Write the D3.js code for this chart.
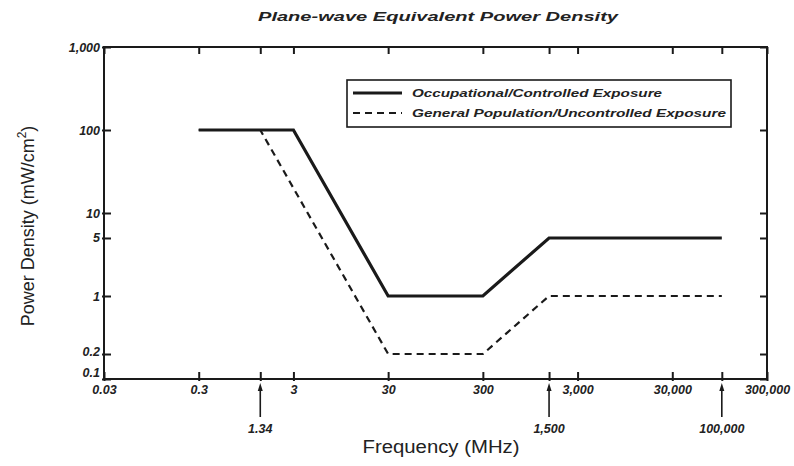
<!DOCTYPE html>
<html>
<head>
<meta charset="utf-8">
<script src="https://cdn.jsdelivr.net/npm/d3@7/dist/d3.min.js"></script>
<style>
  html, body { margin: 0; padding: 0; background: #ffffff; }
  svg { display: block; }
</style>
</head>
<body>
<svg id="chart" width="794" height="466"></svg>
<script>
// ---- data ----
const title = "Plane-wave Equivalent  Power Density";
const xTitle = "Frequency (MHz)";
const yTitle = "Power Density (mW/cm";
const seriesNames = ["Occupational/Controlled Exposure", "General Population/Uncontrolled Exposure"];

const freqOccupational = [0.3, 3, 30, 300, 1500, 100000];
const densityOccupational = [100, 100, 1, 1, 5, 5];

const freqGeneral = [0.3, 1.34, 30, 300, 1500, 100000];
const densityGeneral = [100, 100, 0.2, 0.2, 1, 1];

const xTickValues = [0.03, 0.3, 3, 30, 300, 3000, 30000, 300000];
const xTickLabels = ["0.03", "0.3", "3", "30", "300", "3,000", "30,000", "300,000"];
const markerValues = [1.34, 1500, 100000];
const markerLabels = ["1.34", "1,500", "100,000"];

const yTickValues = [0.1, 0.2, 1, 5, 10, 100, 1000];
const yTickLabels = ["0.1", "0.2", "1", "5", "10", "100", "1,000"];

// ---- layout ----
const svg = d3.select("#chart");
const L = 104, R = 767, T = 47, B = 379;
const x = d3.scaleLog().domain([0.03, 300000]).range([L, R]);
const y = d3.scaleLog().domain([0.1, 1000]).range([B, T]);
const ink = "#1a1a1a";
const font = "'Liberation Sans', Arial, sans-serif";

function styleTickText(sel) {
  sel.attr("font-family", font).attr("font-style", "italic").attr("font-weight", "bold")
     .attr("font-size", 12.5).attr("fill", "#222");
}

const allXTicks = xTickValues.concat(markerValues);
const xLabelMap = new Map(xTickValues.map((v, i) => [v, xTickLabels[i]]));
const yLabelMap = new Map(yTickValues.map((v, i) => [v, yTickLabels[i]]));

// bottom axis
const gB = svg.append("g").attr("transform", `translate(0,${B})`)
  .call(d3.axisBottom(x).tickValues(allXTicks).tickSizeInner(-7).tickSizeOuter(0).tickPadding(6)
    .tickFormat(d => xLabelMap.has(d) ? xLabelMap.get(d) : ""));
gB.select(".domain").remove();
gB.selectAll(".tick line").attr("stroke", ink).attr("stroke-width", 2).attr("y2", -7).attr("y1", 2);
gB.selectAll(".tick text").attr("dy", "0.75em").call(styleTickText);

// top axis ticks
const gT = svg.append("g").attr("transform", `translate(0,${T})`)
  .call(d3.axisTop(x).tickValues(allXTicks).tickSizeInner(-7).tickSizeOuter(0).tickFormat(""));
gT.select(".domain").remove();
gT.selectAll(".tick line").attr("stroke", ink).attr("stroke-width", 2);

// left axis
const gL = svg.append("g").attr("transform", `translate(${L},0)`)
  .call(d3.axisLeft(y).tickValues(yTickValues).tickSizeInner(-7).tickSizeOuter(0).tickPadding(4)
    .tickFormat(d => yLabelMap.get(d)));
gL.select(".domain").remove();
gL.selectAll(".tick line").attr("stroke", ink).attr("stroke-width", 2).attr("x1", -2);
gL.selectAll(".tick text").call(styleTickText)
  .attr("dy", d => d === 0.1 ? "-0.2em" : (d === 0.2 ? "0.15em" : "0.32em"));

// right axis ticks
const gR = svg.append("g").attr("transform", `translate(${R},0)`)
  .call(d3.axisRight(y).tickValues(yTickValues).tickSizeInner(-7).tickSizeOuter(0).tickFormat(""));
gR.select(".domain").remove();
gR.selectAll(".tick line").attr("stroke", ink).attr("stroke-width", 2);

// frame
svg.append("rect").attr("x", L).attr("y", T).attr("width", R - L).attr("height", B - T)
  .attr("fill", "none").attr("stroke", ink).attr("stroke-width", 2);

// series
const line = d3.line().x(d => x(d[0])).y(d => y(d[1]));
const genData = freqGeneral.map((f, i) => [f, densityGeneral[i]]);
const occData = freqOccupational.map((f, i) => [f, densityOccupational[i]]);
svg.append("path").datum(genData).attr("d", line).attr("fill", "none")
  .attr("stroke", ink).attr("stroke-width", 2.2).attr("stroke-dasharray", "7,5");
svg.append("path").datum(occData).attr("d", line).attr("fill", "none")
  .attr("stroke", ink).attr("stroke-width", 3.2).attr("stroke-linejoin", "miter");

// marker arrows below axis
const mk = svg.append("g");
markerValues.forEach((v, i) => {
  const xx = x(v);
  mk.append("line").attr("x1", xx).attr("x2", xx).attr("y1", 417).attr("y2", 388)
    .attr("stroke", ink).attr("stroke-width", 1.6);
  mk.append("path").attr("d", `M${xx - 2.5},${391} L${xx},${383} L${xx + 2.5},${391} Z`).attr("fill", ink);
  mk.append("text").attr("x", xx).attr("y", 433).attr("text-anchor", "middle")
    .call(styleTickText).text(markerLabels[i]);
});

// legend
const lg = svg.append("g");
lg.append("rect").attr("x", 347).attr("y", 80).attr("width", 384).attr("height", 47)
  .attr("fill", "#fff").attr("stroke", ink).attr("stroke-width", 1.6);
lg.append("line").attr("x1", 353).attr("x2", 402).attr("y1", 93).attr("y2", 93)
  .attr("stroke", ink).attr("stroke-width", 3.2);
lg.append("line").attr("x1", 353).attr("x2", 402).attr("y1", 113).attr("y2", 113)
  .attr("stroke", ink).attr("stroke-width", 2).attr("stroke-dasharray", "7,5");
const legTextLen = [250, 314];
seriesNames.forEach((s, i) => {
  lg.append("text").attr("x", 412).attr("y", 97 + i * 20)
    .attr("font-family", font).attr("font-style", "italic").attr("font-weight", "bold")
    .attr("font-size", 11.5).attr("fill", "#222")
    .attr("textLength", legTextLen[i]).attr("lengthAdjust", "spacingAndGlyphs").text(s);
});

// title
svg.append("text").attr("x", 438).attr("y", 21).attr("text-anchor", "middle")
  .attr("font-family", font).attr("font-style", "italic").attr("font-weight", "bold")
  .attr("font-size", 12.5).attr("fill", "#222")
  .attr("textLength", 360).attr("lengthAdjust", "spacingAndGlyphs").text(title);

// axis titles
svg.append("text").attr("x", 441).attr("y", 453).attr("text-anchor", "middle")
  .attr("font-family", font).attr("font-size", 18).attr("fill", "#222")
  .attr("textLength", 157).attr("lengthAdjust", "spacingAndGlyphs").text(xTitle);
const yt = svg.append("text").attr("transform", `translate(34,226) rotate(-90)`).attr("text-anchor", "middle")
  .attr("font-family", font).attr("font-size", 18).attr("fill", "#222");
yt.append("tspan").text(yTitle);
yt.append("tspan").attr("font-size", 12).attr("dy", -8).text("2");
yt.append("tspan").attr("dy", 8).text(")");
</script>
</body>
</html>
